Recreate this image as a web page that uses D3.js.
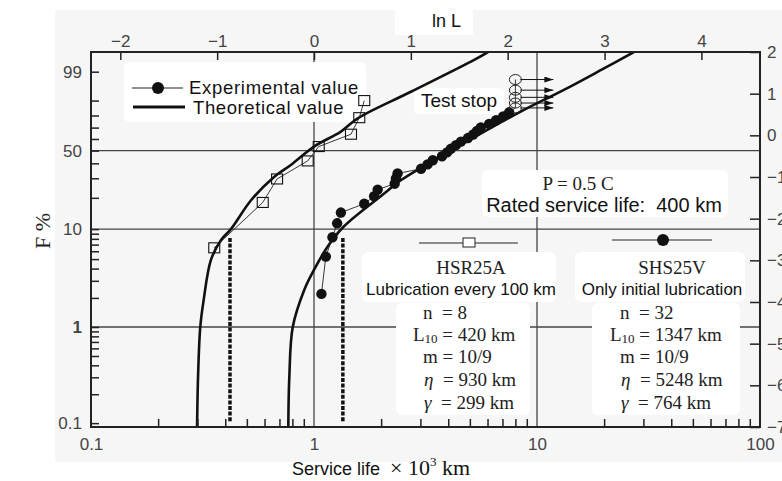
<!DOCTYPE html>
<html>
<head>
<meta charset="utf-8">
<script src="https://cdn.jsdelivr.net/npm/d3@7"></script>
<style>
body { margin: 0; background: #fff; }
text { font-family: "Liberation Sans", Arial, sans-serif; white-space: pre; }
.serif { font-family: "Liberation Serif", "Times New Roman", serif; }
</style>
</head>
<body>
<svg id="chart"></svg>
<script>
// ---- data (L in x10^3 km, F in %) ----
var hsrL = [0.357, 0.589, 0.683, 0.937, 1.05, 1.465, 1.596, 1.68];
var hsrF = [6.5, 18.1, 29.6, 41.8, 53.4, 64.2, 78.3, 90.0];

var shsL = [1.08, 1.13, 1.21, 1.27, 1.32, 1.68, 1.86, 1.93, 2.30, 2.33, 2.37, 3.02, 3.23, 3.41,
            3.75, 3.95, 4.11, 4.33, 4.56, 4.90, 5.17, 5.38, 5.60, 6.10, 6.55, 7.05, 7.50];
var shsF = [2.2, 5.3, 8.3, 11.4, 14.5, 17.6, 20.7, 23.8, 26.9, 29.9, 33.0, 36.1, 39.2, 42.3,
            45.4, 48.5, 51.5, 54.6, 57.7, 60.8, 63.9, 67.0, 70.1, 73.1, 76.2, 79.3, 82.4];

// test stop (suspended) units
var stopL = [8.0, 8.0, 8.0, 8.0, 8.0];
var stopF = [85.5, 88.6, 91.7, 94.8, 97.8];

// theoretical curves
var hsrCurveL = [0.299, 0.302, 0.309, 0.32, 0.345, 0.383, 0.424, 0.522, 0.664, 0.79, 1.0, 1.32, 1.57, 2.72, 5.23, 6.03];
var hsrCurveF = [0.0912, 0.3, 1.0, 1.9, 4.9, 7.8, 10, 19, 31, 39, 53.4, 66.5, 77.8, 94.2, 99.78, 99.938];
var shsCurveL = [0.767, 0.775, 0.803, 0.905, 1.0, 1.152, 1.36, 2.07, 2.46, 4.56, 8.45, 13.2, 19.4, 27.2];
var shsCurveF = [0.0912, 0.3, 1.0, 2.43, 3.88, 6.7, 10.6, 22, 29, 54.8, 82.9, 94.9, 99.18, 99.938];

// L10 marks
var l10Marks = [0.42, 1.347];

// ticks
var xLabels = [0.1, 1, 10, 100];
var xMinor = [0.2, 0.3, 0.4, 0.5, 0.6, 0.7, 0.8, 0.9, 2, 3, 4, 5, 6, 7, 8, 9, 20, 30, 40, 50, 60, 70, 80, 90];
var lnTicks = [-2, -1, 0, 1, 2, 3, 4];
var fLabels = [0.1, 1, 10, 50, 99];
var fMinor = [0.2, 0.3, 0.4, 0.5, 0.6, 0.7, 0.8, 0.9, 2, 3, 4, 5, 6, 7, 8, 9, 20, 30, 40, 60, 70, 80, 90];
var rightTicks = [2, 1, 0, -1, -2, -3, -4, -5, -6, -7];
var gridF = [50, 10, 1];
var gridL = [1, 10];

// ---- layout ----
var size = { width: 782, height: 481 };
var plot = { left: 91, right: 760, top: 52, bottom: 427 };

var x = d3.scaleLog().domain([0.1, 100]).range([plot.left, plot.right]);
var xl = d3.scaleLinear().domain([Math.log(0.1), Math.log(100)]).range([plot.left, plot.right]);
var yW = d3.scaleLinear().domain([-7, 2]).range([plot.bottom, plot.top]);
function weib(F) { return Math.log(-Math.log(1 - F / 100)); }
function yF(F) { return yW(weib(F)); }

function pairs(L, F) {
  return L.map(function(d, i) { return { L: d, F: F[i] }; });
}

var svg = d3.select("#chart")
  .attr("width", size.width)
  .attr("height", size.height);

var defs = svg.append("defs");
defs.append("clipPath").attr("id", "clip")
  .append("rect")
  .attr("x", plot.left).attr("y", plot.top)
  .attr("width", plot.right - plot.left).attr("height", plot.bottom - plot.top);
defs.append("marker")
  .attr("id", "arrow")
  .attr("markerUnits", "userSpaceOnUse")
  .attr("markerWidth", 9).attr("markerHeight", 6)
  .attr("refX", 9).attr("refY", 3)
  .attr("orient", "auto")
  .append("path")
  .attr("d", "M0,0L9,3L0,6Z")
  .attr("fill", "#111");

// background
svg.append("rect").attr("x", 55).attr("y", 10).attr("width", 727).attr("height", 452).attr("fill", "#f6f6f6");
svg.append("rect").attr("x", 395).attr("y", 0).attr("width", 78).attr("height", 35).attr("fill", "#fff");

// grid lines
svg.selectAll(".hgrid").data(gridF).enter().append("line")
  .attr("x1", plot.left).attr("x2", plot.right)
  .attr("y1", yF).attr("y2", yF)
  .attr("stroke", "#444").attr("stroke-width", 1.3);
svg.selectAll(".vgrid").data(gridL).enter().append("line")
  .attr("x1", x).attr("x2", x)
  .attr("y1", plot.top).attr("y2", plot.bottom)
  .attr("stroke", "#444").attr("stroke-width", 1.3);

// white patches behind the texts
var patches = [
  [124, 62, 242, 60],
  [414, 88, 90, 26],
  [482, 170, 246, 47],
  [362, 252, 194, 50],
  [396, 303, 134, 112],
  [575, 252, 170, 50],
  [592, 303, 148, 112]
];
svg.selectAll(".patch").data(patches).enter().append("rect")
  .attr("x", function(d) { return d[0]; })
  .attr("y", function(d) { return d[1]; })
  .attr("width", function(d) { return d[2]; })
  .attr("height", function(d) { return d[3]; })
  .attr("rx", 6)
  .attr("fill", "#fff");

// L10 marks
svg.selectAll(".l10").data(l10Marks).enter().append("line")
  .attr("x1", x).attr("x2", x)
  .attr("y1", 238).attr("y2", 422)
  .attr("stroke", "#111").attr("stroke-width", 3.5)
  .attr("stroke-dasharray", "4,1.6");

var plotArea = svg.append("g").attr("clip-path", "url(#clip)");

// theoretical curves
var curve = d3.line()
  .x(function(d) { return x(d.L); })
  .y(function(d) { return yF(d.F); })
  .curve(d3.curveCatmullRom.alpha(0.5));

plotArea.append("path")
  .datum(pairs(hsrCurveL, hsrCurveF))
  .attr("d", curve)
  .attr("fill", "none").attr("stroke", "#111").attr("stroke-width", 2.6);
plotArea.append("path")
  .datum(pairs(shsCurveL, shsCurveF))
  .attr("d", curve)
  .attr("fill", "none").attr("stroke", "#111").attr("stroke-width", 2.6);

// experimental values
var expLine = d3.line()
  .x(function(d) { return x(d.L); })
  .y(function(d) { return yF(d.F); });

plotArea.append("path")
  .datum(pairs(hsrL, hsrF))
  .attr("d", expLine)
  .attr("fill", "none").attr("stroke", "#222").attr("stroke-width", 0.9);
plotArea.append("path")
  .datum(pairs(shsL.concat(stopL), shsF.concat(stopF)))
  .attr("d", expLine)
  .attr("fill", "none").attr("stroke", "#222").attr("stroke-width", 0.9);

plotArea.selectAll(".sq").data(pairs(hsrL, hsrF)).enter().append("rect")
  .attr("x", function(d) { return x(d.L) - 5.5; })
  .attr("y", function(d) { return yF(d.F) - 5; })
  .attr("width", 11).attr("height", 10)
  .attr("fill", "none").attr("stroke", "#111").attr("stroke-width", 1.1);

plotArea.selectAll(".dot").data(pairs(shsL, shsF)).enter().append("circle")
  .attr("cx", function(d) { return x(d.L); })
  .attr("cy", function(d) { return yF(d.F); })
  .attr("r", 5.2)
  .attr("fill", "#111");

// test stop arrows + open circles
svg.selectAll(".arr").data(pairs(stopL, stopF)).enter().append("line")
  .attr("x1", function(d) { return x(d.L) + 5; })
  .attr("x2", function(d) { return x(d.L) + 38; })
  .attr("y1", function(d) { return yF(d.F); })
  .attr("y2", function(d) { return yF(d.F); })
  .attr("stroke", "#111").attr("stroke-width", 1)
  .attr("marker-end", "url(#arrow)");
svg.selectAll(".ring").data(pairs(stopL, stopF)).enter().append("ellipse")
  .attr("cx", function(d) { return x(d.L); })
  .attr("cy", function(d) { return yF(d.F); })
  .attr("rx", 6).attr("ry", 5)
  .attr("fill", "none").attr("stroke", "#222").attr("stroke-width", 1);

// ---- axes ----
function clean(g) {
  g.select(".domain").remove();
  g.selectAll(".tick line").attr("stroke", "#222").attr("stroke-width", 1.5);
  g.selectAll(".tick text").attr("font-size", 17).attr("fill", "#444")
    .attr("font-family", "'DejaVu Sans', sans-serif");
}

svg.append("g")
  .attr("transform", "translate(0," + plot.bottom + ")")
  .call(d3.axisBottom(x).tickValues(xMinor).tickSize(-8).tickFormat(""))
  .call(clean);
svg.append("g")
  .attr("transform", "translate(0," + plot.bottom + ")")
  .call(d3.axisBottom(x).tickValues(xLabels).tickSize(0).tickPadding(11).tickFormat(function(d) { return d; }))
  .call(clean);

svg.append("g")
  .attr("transform", "translate(0," + plot.top + ")")
  .call(d3.axisTop(xl).tickValues(lnTicks).tickSize(-8).tickPadding(5).tickFormat(d3.format("d")))
  .call(clean);

svg.append("g")
  .attr("transform", "translate(" + plot.left + ",0)")
  .call(d3.axisLeft(yW).tickValues(fMinor.map(weib)).tickSize(-8).tickFormat(""))
  .call(clean);
svg.append("g")
  .attr("transform", "translate(" + plot.left + ",0)")
  .call(d3.axisLeft(yW).tickValues(fLabels.map(weib)).tickSize(-8).tickPadding(9)
    .tickFormat(function(d, i) { return fLabels[i]; }))
  .call(clean)
  .selectAll(".tick text")
  .attr("font-weight", function(d, i) { return fLabels[i] === 1 ? "bold" : null; });

svg.append("g")
  .attr("transform", "translate(" + plot.right + ",0)")
  .call(d3.axisRight(yW).tickValues(rightTicks).tickSize(-10).tickPadding(7).tickFormat(d3.format("d")))
  .call(clean);

// frame
svg.append("rect")
  .attr("x", plot.left).attr("y", plot.top)
  .attr("width", plot.right - plot.left).attr("height", plot.bottom - plot.top)
  .attr("fill", "none").attr("stroke", "#222").attr("stroke-width", 2);

// ---- texts ----
svg.append("text").attr("x", 432).attr("y", 27).attr("font-size", 18).attr("fill", "#111").text("ln L");

svg.append("text")
  .attr("class", "serif")
  .attr("transform", "translate(50,231) rotate(-90)")
  .attr("text-anchor", "middle")
  .attr("font-size", 22).attr("fill", "#222")
  .text("F %");

var xt = svg.append("text").attr("x", 292).attr("y", 475).attr("font-size", 18).attr("fill", "#111");
xt.append("tspan").text("Service life  ");
xt.append("tspan").attr("class", "serif").attr("font-size", 22).text("\u00d7 10");
xt.append("tspan").attr("class", "serif").attr("font-size", 13).attr("dy", -9).text("3");
xt.append("tspan").attr("class", "serif").attr("font-size", 22).attr("dy", 9).text(" km");

// legend
svg.append("line").attr("x1", 132).attr("x2", 183).attr("y1", 88).attr("y2", 88).attr("stroke", "#222").attr("stroke-width", 1);
svg.append("circle").attr("cx", 158).attr("cy", 88).attr("r", 6).attr("fill", "#111");
svg.append("text").attr("x", 189).attr("y", 94).attr("font-size", 18.5).attr("letter-spacing", 0.7)
  .attr("fill", "#111").text("Experimental value");
svg.append("line").attr("x1", 133).attr("x2", 185).attr("y1", 107).attr("y2", 107).attr("stroke", "#111").attr("stroke-width", 3);
svg.append("text").attr("x", 193).attr("y", 114).attr("font-size", 18.5).attr("letter-spacing", 0.6)
  .attr("fill", "#111").text("Theoretical value");

svg.append("text").attr("x", 421).attr("y", 107).attr("font-size", 19).attr("fill", "#111").text("Test stop");

svg.append("text").attr("class", "serif").attr("x", 578).attr("y", 190).attr("text-anchor", "middle")
  .attr("font-size", 19).attr("fill", "#222").text("P = 0.5 C");
svg.append("text").attr("x", 604).attr("y", 212).attr("text-anchor", "middle")
  .attr("font-size", 20).attr("fill", "#111").text("Rated service life:  400 km");

// series keys
svg.append("line").attr("x1", 419).attr("x2", 518).attr("y1", 243).attr("y2", 243).attr("stroke", "#222").attr("stroke-width", 1);
svg.append("rect").attr("x", 463).attr("y", 238).attr("width", 12).attr("height", 9).attr("fill", "#fff").attr("stroke", "#222");
svg.append("line").attr("x1", 612).attr("x2", 712).attr("y1", 240).attr("y2", 240).attr("stroke", "#222").attr("stroke-width", 1);
svg.append("circle").attr("cx", 663).attr("cy", 240).attr("r", 6).attr("fill", "#111");

var blocks = [
  { cx: 471, name: "HSR25A", note: "Lubrication every 100 km", x0: 423, n: "8", l10: "420 km", eta: "930 km", gam: "299 km" },
  { cx: 672, name: "SHS25V", note: "Only initial lubrication", x0: 620, n: "32", l10: "1347 km", eta: "5248 km", gam: "764 km" }
];
blocks.forEach(function(b) {
  svg.append("text").attr("class", "serif").attr("x", b.cx).attr("y", 274).attr("text-anchor", "middle")
    .attr("font-size", 19).attr("fill", "#222").text(b.name);
  svg.append("text").attr("x", b.cx - 10).attr("y", 295).attr("text-anchor", "middle")
    .attr("font-size", 17).attr("fill", "#111").text(b.note);

  svg.append("text").attr("class", "serif").attr("x", b.x0).attr("y", 319)
    .attr("font-size", 19).attr("fill", "#222").text("n  = " + b.n);
  var t = svg.append("text").attr("class", "serif").attr("x", b.x0 - 10).attr("y", 341)
    .attr("font-size", 19).attr("fill", "#222");
  t.append("tspan").text("L");
  t.append("tspan").attr("font-size", 13).attr("dy", 2).text("10");
  t.append("tspan").attr("dy", -2).text(" = " + b.l10);
  svg.append("text").attr("class", "serif").attr("x", b.x0).attr("y", 363)
    .attr("font-size", 19).attr("fill", "#222").text("m = 10/9");
  var e = svg.append("text").attr("class", "serif").attr("x", b.x0 + 1).attr("y", 386)
    .attr("font-size", 19).attr("fill", "#222");
  e.append("tspan").attr("font-style", "italic").text("\u03b7");
  e.append("tspan").text("  = " + b.eta);
  var g = svg.append("text").attr("class", "serif").attr("x", b.x0 + 1).attr("y", 409)
    .attr("font-size", 19).attr("fill", "#222");
  g.append("tspan").attr("font-style", "italic").text("\u03b3");
  g.append("tspan").text("  = " + b.gam);
});
</script>
</body>
</html>
